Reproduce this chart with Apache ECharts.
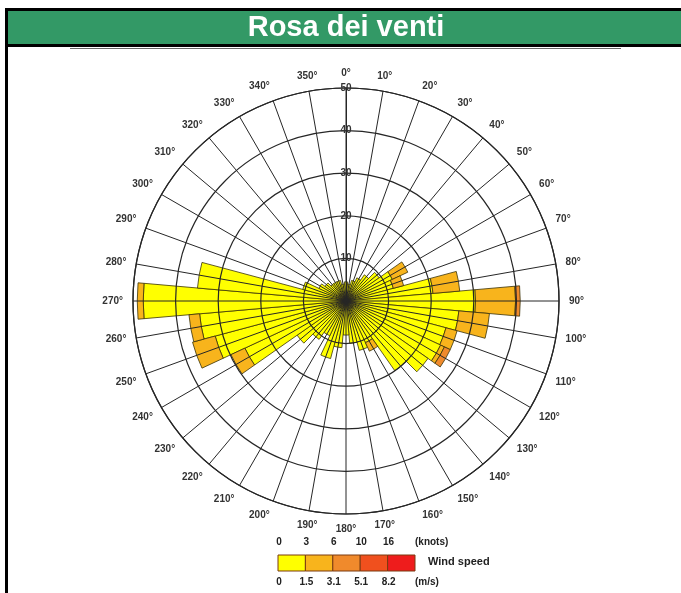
<!DOCTYPE html>
<html>
<head>
<meta charset="utf-8">
<script src="https://cdn.jsdelivr.net/npm/echarts@6/dist/echarts.min.js"></script>
<style>
  html, body { margin: 0; padding: 0; background: #fff; }
  #main { width: 681px; height: 593px; }
</style>
</head>
<body>
<div id="main"></div>
<script type="text/javascript">
// direzioni (gradi) e classi di velocita
var directions = ['0', '10', '20', '30', '40', '50', '60', '70', '80', '90', '100', '110',
    '120', '130', '140', '150', '160', '170', '180', '190', '200', '210', '220', '230',
    '240', '250', '260', '270', '280', '290', '300', '310', '320', '330', '340', '350'];

// 0 - 1.5 m/s
var class1 = [4.5, 4, 5, 6, 7.5, 9.5, 12, 11.5, 20.5, 30.4, 26.6, 24.3,
    24.5, 23.5, 20, 10.8, 12, 10, 8, 11, 14, 9, 11, 14,
    26.2, 31.8, 34.5, 47.6, 35, 10.5, 7, 6, 5, 5, 5, 4];
// 1.5 - 3.1 m/s
var class2 = [0, 0, 0, 0, 0, 0, 4, 2.5, 6.3, 9.4, 7.2, 2.7,
    1, 0, 0, 2.2, 0, 0, 0, 0, 0, 0, 0, 0,
    3.6, 5.5, 2.5, 1.4, 0, 0, 0, 0, 0, 0, 0, 0];
// 3.1 - 5.1 m/s
var class3 = [0, 0, 0, 0, 0, 0, 0, 0, 0, 1.1, 0, 0,
    1.5, 0, 0, 0, 0, 0, 0, 0, 0, 0, 0, 0,
    0, 0, 0, 0, 0, 0, 0, 0, 0, 0, 0, 0];
// 5.1 - 8.2 m/s
var class4 = [0, 0, 0, 0, 0, 0, 0, 0, 0, 0, 0, 0,
    0, 0, 0, 0, 0, 0, 0, 0, 0, 0, 0, 0,
    0, 0, 0, 0, 0, 0, 0, 0, 0, 0, 0, 0];
// > 8.2 m/s
var class5 = [0, 0, 0, 0, 0, 0, 0, 0, 0, 0, 0, 0,
    0, 0, 0, 0, 0, 0, 0, 0, 0, 0, 0, 0,
    0, 0, 0, 0, 0, 0, 0, 0, 0, 0, 0, 0];

var speedColors = ['#ffff00', '#f8b41c', '#f08a2c', '#f0501e', '#ee1c1c'];
var knotTicks = ['0', '3', '6', '10', '16'];
var msTicks = ['0', '1.5', '3.1', '5.1', '8.2'];

var myChart = echarts.init(document.getElementById('main'));

var center = [346, 301];
var radius = 213;
var gridColor = '#262626';
var labelFont = {fontFamily: 'Arial, "Liberation Sans", sans-serif', fontWeight: 'bold', fontSize: 10, color: '#333'};

function toSeries(values, i) {
    return {
        type: 'bar',
        coordinateSystem: 'polar',
        polarIndex: 0,
        stack: 'vento',
        barCategoryGap: '0%',
        z: 2,
        itemStyle: {color: speedColors[i], borderColor: '#3a3208', borderWidth: 0.8},
        data: values.map(function (v) { return v > 0 ? v : '-'; })
    };
}

// legenda (scala colori)
var legend = [];
var sx = 278, sw = 27.4, sy = 555;
var legendFont = 'bold 10px Arial, "Liberation Sans"';
speedColors.forEach(function (c, i) {
    legend.push({type: 'rect', shape: {x: sx + i * sw, y: sy, width: sw, height: 16},
        style: {fill: c, stroke: '#7a3b10', lineWidth: 1}});
});
knotTicks.forEach(function (t, i) {
    legend.push({type: 'text', x: sx + i * sw + 1, y: 542,
        style: {text: t, font: legendFont, fill: '#222', align: 'center', verticalAlign: 'middle'}});
});
msTicks.forEach(function (t, i) {
    legend.push({type: 'text', x: sx + i * sw + 1, y: 582,
        style: {text: t, font: legendFont, fill: '#222', align: 'center', verticalAlign: 'middle'}});
});
legend.push({type: 'text', x: 415, y: 542, style: {text: '(knots)', font: legendFont, fill: '#222', verticalAlign: 'middle'}});
legend.push({type: 'text', x: 415, y: 582, style: {text: '(m/s)', font: legendFont, fill: '#222', verticalAlign: 'middle'}});
legend.push({type: 'text', x: 428, y: 562, style: {text: 'Wind speed', font: 'bold 11px Arial, "Liberation Sans"', fill: '#222', verticalAlign: 'middle'}});

var option = {
    backgroundColor: '#fff',
    animation: false,
    title: {
        text: 'Rosa dei venti',
        left: 346,
        top: 11,
        padding: 0,
        textAlign: 'center',
        textStyle: {color: '#fff', fontSize: 29, lineHeight: 33, fontWeight: 'bold', fontFamily: 'Arial, "Liberation Sans", sans-serif'}
    },
    graphic: [
        // cornice e intestazione
        {type: 'rect', z: -1, shape: {x: 8, y: 11, width: 673, height: 33}, style: {fill: '#339966'}},
        {type: 'rect', z: -1, shape: {x: 5, y: 8, width: 676, height: 3}, style: {fill: '#000'}},
        {type: 'rect', z: -1, shape: {x: 5, y: 44, width: 676, height: 3}, style: {fill: '#000'}},
        {type: 'rect', z: -1, shape: {x: 5, y: 8, width: 3, height: 585}, style: {fill: '#000'}},
        {type: 'rect', z: -1, shape: {x: 70, y: 48, width: 551, height: 1}, style: {fill: '#666'}}
    ].concat(legend),
    polar: [
        {center: center, radius: radius},
        {center: center, radius: radius}
    ],
    angleAxis: [
        {
            polarIndex: 0, type: 'category', data: directions,
            startAngle: 95, clockwise: true, boundaryGap: true,
            axisLine: {show: false}, axisTick: {show: false}, axisLabel: {show: false}, splitLine: {show: false}
        },
        {
            polarIndex: 1, type: 'value', min: 0, max: 360, interval: 10,
            startAngle: 90, clockwise: true, z: 5,
            axisLine: {show: true, lineStyle: {color: gridColor, width: 1.2}},
            axisTick: {show: false},
            axisLabel: Object.assign({formatter: '{value}°', margin: 10}, labelFont),
            splitLine: {show: true, lineStyle: {color: gridColor, width: 1}}
        }
    ],
    radiusAxis: [
        {polarIndex: 0, type: 'value', min: 0, max: 50,
            axisLine: {show: false}, axisTick: {show: false}, axisLabel: {show: false}, splitLine: {show: false}},
        {
            polarIndex: 1, type: 'value', min: 0, max: 50, interval: 10, z: 5,
            axisLine: {show: true, lineStyle: {color: gridColor}},
            axisTick: {show: false},
            axisLabel: Object.assign({margin: 0, align: 'center', verticalAlign: 'middle', showMinLabel: false}, labelFont),
            splitLine: {show: true, lineStyle: {color: gridColor, width: 1.2}}
        }
    ],
    series: [class1, class2, class3, class4, class5].map(toSeries)
};

myChart.setOption(option);
</script>
</body>
</html>
